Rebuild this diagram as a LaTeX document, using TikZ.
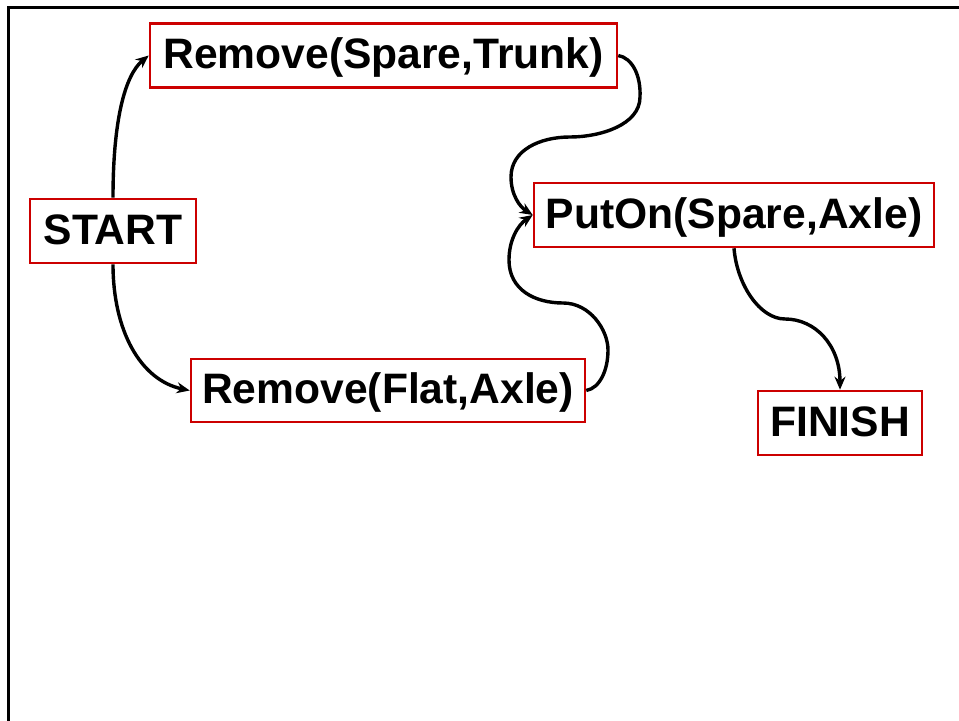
\documentclass[tikz,border=0pt]{standalone}
\usepackage{fontspec}
\setmainfont{Liberation Sans}
\usetikzlibrary{arrows.meta}
\definecolor{boxred}{RGB}{204,0,0}
\begin{document}
\begin{tikzpicture}[x=0.5pt,y=-0.5pt,
  opbox/.style={draw=boxred, line width=1.3pt, minimum height=32pt, inner sep=0pt,
    text height=13.2pt, text depth=0pt,
    font=\fontsize{21.3}{25}\selectfont\bfseries, text=black},
  conn/.style={line width=1.7pt, -{Stealth[length=6.5pt,width=5.5pt]}}]
\useasboundingbox (0,0) rectangle (959,721);
% frame
\draw[line width=1.5pt] (8,721) -- (8,8) -- (959,8);
% nodes
\node[opbox, minimum width=83pt] (start) at (113,231) {START};
\node[opbox, minimum width=233.5pt] (rst) at (383.5,55.5) {Remove(Spare,Trunk)};
\node[opbox, minimum width=200pt] (pon) at (734,215) {PutOn(Spare,Axle)};
\node[opbox, minimum width=197pt, minimum height=31.5pt] (rfa) at (388,390.5) {Remove(Flat,Axle)};
\node[opbox, minimum width=82pt] (fin) at (840,423) {FINISH};
% connectors
\draw[conn] (start.north) .. controls (113,120) and (125,75) .. (rst.west);
\draw[conn] (start.south) .. controls (113,330) and (140,380) .. (rfa.west);
\draw[conn] (rst.east) .. controls (632,58) and (641,75) .. (640,97)
  .. controls (640,125) and (600,137) .. (570,137)
  .. controls (540,137) and (511,150) .. (511,177)
  .. controls (511,195) and (520,207) .. (pon.west);
\draw[conn] (rfa.east) .. controls (600,388) and (608,370) .. (608,350)
  .. controls (608,330) and (590,303) .. (563,303)
  .. controls (535,303) and (509,290) .. (509,260)
  .. controls (509,240) and (518,225) .. (pon.west);
\draw[conn] (pon.south) .. controls (737,285) and (760,319) .. (785,319)
  .. controls (815,319) and (840,345) .. (fin.north);
\end{tikzpicture}
\end{document}
